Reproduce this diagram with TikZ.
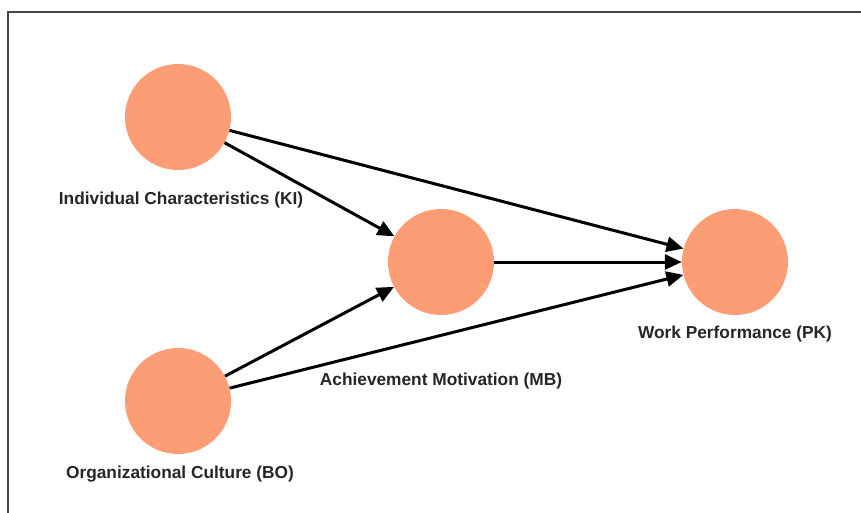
\documentclass[tikz,border=0pt]{standalone}
\usepackage{fontspec}
\setmainfont{Liberation Sans}
\usepackage{tikz}
\usetikzlibrary{arrows.meta, positioning}

\definecolor{salmon}{RGB}{253,157,118}
\definecolor{framegray}{RGB}{70,70,70}

\begin{document}
\begin{tikzpicture}[x=1pt, y=-1pt,
        var/.style={circle, fill=salmon, minimum size=106pt, inner sep=0pt},
        lbl/.style={font=\fontsize{17.3}{20}\selectfont\bfseries, text=black!85, inner sep=0pt},
        path/.style={-{Triangle[length=17pt, width=15pt]}, line width=3pt}]
        \useasboundingbox (0,0) rectangle (861,513);
        \draw[framegray, line width=2pt] (8,513) -- (8,12) -- (861,12);

        \node[var] (KI) at (178,117) {};
        \node[var] (BO) at (178,401) {};
        \node[var] (MB) at (441,262) {};
        \node[var] (PK) at (735,262) {};

        \node[lbl] (KIl) at (181,200) {Individual Characteristics (KI)};
        \node[lbl] (BOl) at (180,474) {Organizational Culture (BO)};
        \node[lbl] (MBl) at (441,381) {Achievement Motivation (MB)};
        \node[lbl] (PKl) at (735,334) {Work Performance (PK)};

        \draw[path] (KI) -- (PK);
        \draw[path] (KI) -- (MB);
        \draw[path] (BO) -- (MB);
        \draw[path] (BO) -- (PK);
        \draw[path] (MB) -- (PK);
    \end{tikzpicture}
\end{document}
